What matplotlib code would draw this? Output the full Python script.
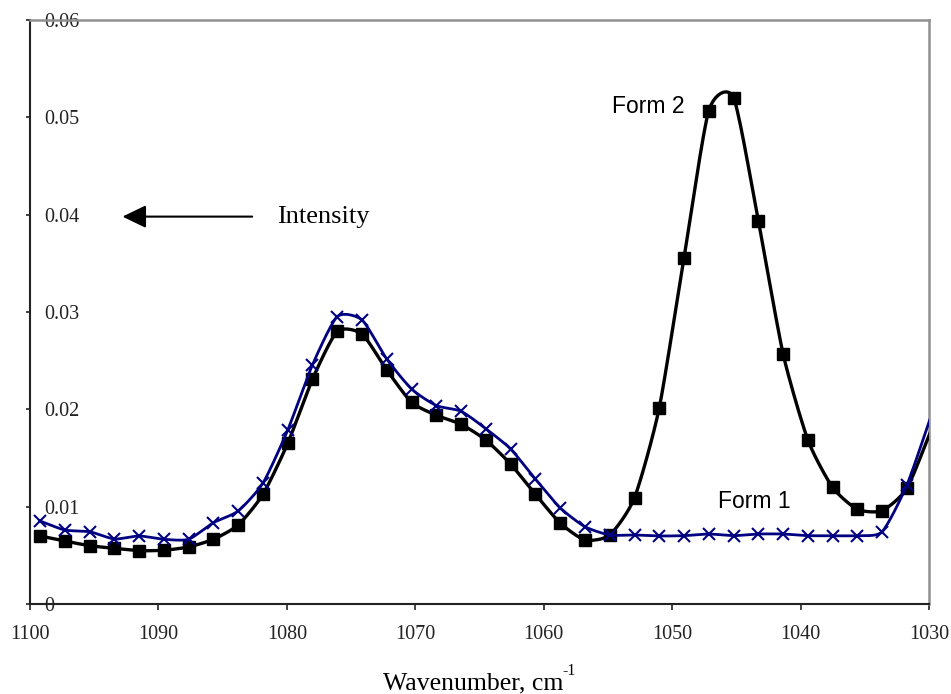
import numpy as np
import matplotlib
matplotlib.use('Agg')
import matplotlib.pyplot as plt

plt.rcParams['font.family'] = ['Liberation Serif', 'DejaVu Serif']
plt.rcParams['xtick.labelsize'] = 14.5
plt.rcParams['ytick.labelsize'] = 14.5

# wavenumber grid (cm-1), spectra sampled every ~1.93 cm-1
wavenumber = [1099.22, 1097.29, 1095.36, 1093.43, 1091.51, 1089.58, 1087.65, 1085.72,
              1083.79, 1081.86, 1079.93, 1078.01, 1076.08, 1074.15, 1072.22, 1070.29,
              1068.36, 1066.43, 1064.51, 1062.58, 1060.65, 1058.72, 1056.79, 1054.86,
              1052.93, 1051.01, 1049.08, 1047.15, 1045.22, 1043.29, 1041.36, 1039.43,
              1037.51, 1035.58, 1033.65, 1031.72, 1029.79]

form2 = [0.00699, 0.00647, 0.00599, 0.00572, 0.00548, 0.00552, 0.00586, 0.00665,
         0.00812, 0.01127, 0.01651, 0.02309, 0.02800, 0.02774, 0.02404, 0.02072,
         0.01939, 0.01846, 0.01685, 0.01438, 0.01127, 0.00832, 0.00658, 0.00709,
         0.01092, 0.02011, 0.03555, 0.05068, 0.05202, 0.03938, 0.02569, 0.01685,
         0.01199, 0.00973, 0.00959, 0.01189, 0.01800]

form1 = [0.00853, 0.00760, 0.00743, 0.00668, 0.00699, 0.00665, 0.00665, 0.00835,
         0.00956, 0.01243, 0.01788, 0.02456, 0.02952, 0.02918, 0.02517, 0.02209,
         0.02039, 0.01980, 0.01801, 0.01593, 0.01284, 0.00988, 0.00794, 0.00709,
         0.00709, 0.00699, 0.00702, 0.00719, 0.00702, 0.00719, 0.00719, 0.00702,
         0.00702, 0.00702, 0.00743, 0.01223, 0.01950]


def smooth(x, y, n=16, k=0.65):
    # cardinal (Hermite) curve through the points; k scales the tangents
    x = np.asarray(x, float)
    y = np.asarray(y, float)
    t = np.linspace(0, 1, n, endpoint=False)
    h00 = 2 * t ** 3 - 3 * t ** 2 + 1
    h10 = t ** 3 - 2 * t ** 2 + t
    h01 = -2 * t ** 3 + 3 * t ** 2
    h11 = t ** 3 - t ** 2
    out = []
    for p in (x, y):
        m = np.empty_like(p)
        m[1:-1] = 0.5 * k * (p[2:] - p[:-2])
        m[0] = k * (p[1] - p[0])
        m[-1] = k * (p[-1] - p[-2])
        seg = [h00 * p[i] + h10 * m[i] + h01 * p[i + 1] + h11 * m[i + 1]
               for i in range(len(p) - 1)]
        out.append(np.concatenate(seg + [[p[-1]]]))
    return out


fig = plt.figure(figsize=(9.51, 6.94), dpi=100)
ax = fig.add_axes([30 / 951, 90 / 694, 899 / 951, 584 / 694])

sx, sy = smooth(wavenumber, form2)
ax.plot(sx, sy, color='black', lw=2.4, zorder=3)
ax.plot(wavenumber[:-1], form2[:-1], ls='none', marker='s', ms=8.5,
        color='black', zorder=4)

sx, sy = smooth(wavenumber, form1)
ax.plot(sx, sy, color='#000080', lw=2.0, zorder=5)
ax.plot(wavenumber[:-1], form1[:-1], ls='none', marker='x', ms=8.5, mew=1.5,
        color='#000080', zorder=6)

ax.set_xlim(1100, 1030)
ax.set_ylim(0, 0.06)
ax.set_xticks([1100, 1090, 1080, 1070, 1060, 1050, 1040, 1030])
ax.set_yticks([0, 0.01, 0.02, 0.03, 0.04, 0.05, 0.06])
ax.set_yticklabels(['0', '0.01', '0.02', '0.03', '0.04', '0.05', '0.06'])

for side in ('left', 'bottom'):
    ax.spines[side].set_color('#222222')
    ax.spines[side].set_linewidth(1.5)
for side in ('top', 'right'):
    ax.spines[side].set_color('#909090')
    ax.spines[side].set_linewidth(1.8)

ax.tick_params(axis='x', direction='out', length=4, width=1.2, pad=11,
               colors='#222222')
ax.tick_params(axis='y', direction='out', length=3, width=1.2, pad=-13.5,
               colors='#222222')
for lab in ax.get_yticklabels():
    lab.set_horizontalalignment('left')

# axis title with a plain hyphen in the exponent
fig.text(383 / 951, 5 / 694, 'Wavenumber, cm', fontsize=18.5,
         ha='left', va='baseline')
fig.text(562 / 951, 19 / 694, '-1', fontsize=11.5, ha='left', va='baseline')

ax.annotate('', xy=(1092.8, 0.0398), xytext=(1082.7, 0.0398),
            arrowprops=dict(arrowstyle='-|>,head_length=1.45,head_width=0.7',
                            color='black', lw=1.5, shrinkA=0, shrinkB=0))
ax.text(1080.75, 0.0398, 'Intensity', fontsize=19, va='center', ha='left')

ax.text(1054.7, 0.0511, 'Form 2', fontfamily='Liberation Sans', fontsize=16.5,
        va='center', ha='left')
ax.text(1046.4, 0.0105, 'Form 1', fontfamily='Liberation Sans', fontsize=16.5,
        va='center', ha='left')

fig.savefig('out.png', dpi=100, facecolor='white')
